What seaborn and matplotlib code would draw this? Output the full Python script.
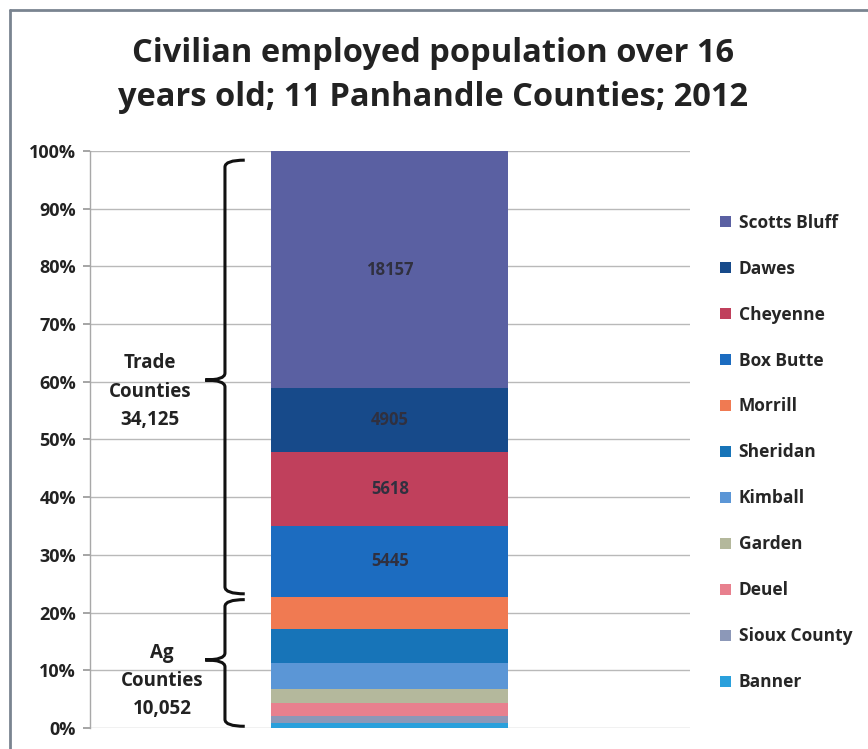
import numpy as np
import pandas as pd
import matplotlib
matplotlib.use("Agg")
import matplotlib.pyplot as plt
from matplotlib.patches import Patch, PathPatch
from matplotlib.path import Path
from matplotlib.lines import Line2D
from matplotlib.transforms import blended_transform_factory
import seaborn as sns

# Civilian employed population (16+), Nebraska Panhandle, 2012 — top of stack first
counties = ["Scotts Bluff", "Dawes", "Cheyenne", "Box Butte", "Morrill",
            "Sheridan", "Kimball", "Garden", "Deuel", "Sioux County", "Banner"]
employed = [18157, 4905, 5618, 5445, 2499, 2606, 1988, 1060, 972, 574, 353]
trade_counties = ["Scotts Bluff", "Dawes", "Cheyenne", "Box Butte"]
ag_counties = ["Morrill", "Sheridan", "Kimball", "Garden", "Deuel", "Sioux County", "Banner"]
colors = ["#5a60a2", "#174a8a", "#c0405c", "#1c6cc0", "#f07a52",
          "#1774b8", "#5b96d6", "#b4b89c", "#e8808e", "#8c98b8", "#2aa0dc"]
year = "2012"

df = pd.DataFrame({"year": year, "county": counties, "employed": employed})
palette = dict(zip(counties, colors))

sns.set_theme(style="white")
plt.rcParams["font.family"] = ["Open Sans", "DejaVu Sans"]

fig = plt.figure(figsize=(8.68, 7.49), dpi=100)
ax = fig.add_axes([0.1037, 0.028, 0.691, 0.7705])

# Gridlines underneath the bar
ax.set_axisbelow(True)
ax.yaxis.grid(True, color="#b9b9b9", linewidth=1.0)

sns.histplot(data=df, x="year", hue="county", weights="employed",
             hue_order=counties, palette=palette, multiple="fill",
             discrete=True, shrink=0.395, alpha=1, linewidth=0,
             legend=False, ax=ax)

ax.set_xlim(-0.5, 0.5)
ax.set_ylim(0, 1)
ax.set_xticks([])
ax.set_xlabel("")
ax.set_ylabel("")
ax.set_yticks(np.arange(0, 1.01, 0.1))
ax.set_yticklabels([f"{v:.0%}" for v in np.arange(0, 1.01, 0.1)],
                   fontsize=13, fontweight="bold", color="#222222")
ax.tick_params(axis="y", length=5, color="#9a9a9a", pad=5, left=True)
for side in ["top", "right", "bottom"]:
    ax.spines[side].set_visible(False)
ax.spines["left"].set_color("#a8a8a8")
ax.spines["left"].set_linewidth(1.0)

# Value labels inside the trade-county segments
total = sum(employed)
shares = np.array(employed) / total
tops = 1 - np.concatenate([[0], np.cumsum(shares)[:-1]])
for name, val, share, top in zip(counties, employed, shares, tops):
    if name in trade_counties:
        ax.text(0, top - share / 2, f"{val}", ha="center", va="center",
                fontsize=12, fontweight="bold", color="#30303f")

# Curly braces grouping the counties
trans = blended_transform_factory(ax.transAxes, ax.transData)


def brace(y_low, y_high, y_tip, x_line=0.225, x_hook=0.258, x_tip=0.192, r=0.012):
    verts = [
        (x_hook, y_high), (x_line, y_high), (x_line, y_high - r),
        (x_line, y_tip + r), (x_line, y_tip), (x_tip, y_tip),
        (x_tip, y_tip), (x_line, y_tip), (x_line, y_tip - r),
        (x_line, y_low + r), (x_line, y_low), (x_hook, y_low),
    ]
    codes = [
        Path.MOVETO, Path.CURVE3, Path.CURVE3,
        Path.LINETO, Path.CURVE3, Path.CURVE3,
        Path.MOVETO, Path.CURVE3, Path.CURVE3,
        Path.LINETO, Path.CURVE3, Path.CURVE3,
    ]
    ax.add_patch(PathPatch(Path(verts, codes), transform=trans, fill=False,
                           edgecolor="#111111", linewidth=2.2, clip_on=False))


trade_total = sum(v for c, v in zip(counties, employed) if c in trade_counties)
ag_total = sum(v for c, v in zip(counties, employed) if c in ag_counties)
ag_share = ag_total / total

brace(ag_share + 0.005, 0.984, 0.603)
brace(0.003, ag_share - 0.005, 0.118)

group_font = dict(ha="center", va="center", fontsize=13.5, fontweight="bold",
                  color="#222222", linespacing=1.55)
ax.text(0.10, 0.583, f"Trade\nCounties\n{trade_total:,}", transform=trans, **group_font)
ax.text(0.12, 0.0815, f"Ag\nCounties\n{ag_total:,}", transform=trans, **group_font)

# Legend on the right
handles = [Patch(facecolor=palette[c], edgecolor="none") for c in counties]
fig.legend(handles, counties, loc="upper left", bbox_to_anchor=(0.822, 0.724),
           frameon=False, prop={"size": 12.5, "weight": "bold"},
           handlelength=0.6, handleheight=0.6, handletextpad=0.45,
           labelspacing=1.61, borderaxespad=0)

fig.text(0.499, 0.899, "Civilian employed population over 16\nyears old; 11 Panhandle Counties; 2012",
         ha="center", va="center", fontsize=23.5, fontweight="bold",
         color="#222222", linespacing=1.45)

# Chart frame
fig.add_artist(Line2D([10 / 868, 10 / 868], [0, 1 - 10 / 749], transform=fig.transFigure,
                      color="#7a8490", linewidth=2))
fig.add_artist(Line2D([10 / 868, 1], [1 - 10 / 749, 1 - 10 / 749], transform=fig.transFigure,
                      color="#7a8490", linewidth=2))

fig.savefig("out.png", dpi=100)
